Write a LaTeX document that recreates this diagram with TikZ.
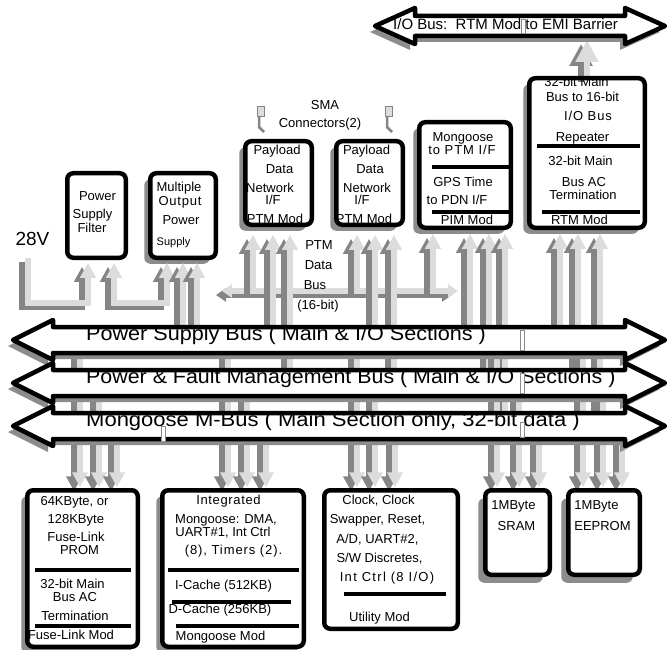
\documentclass[tikz,border=0pt]{standalone}
\usepackage{fontspec}
\usepackage{graphicx}
\setmainfont{Liberation Sans}
\usetikzlibrary{arrows.meta,shadows}
\definecolor{litegray}{HTML}{DCDCDC}
\definecolor{darkgray2}{HTML}{858585}
\definecolor{shadowgray}{HTML}{8C8C8C}
% double-headed bus outline: xl xr c headhalf shafthalf headlen
\newcommand\busp[6]{(#1,#3) -- ({#1+#6},{#3-#4}) -- ({#1+#6},{#3-#5}) -- ({#2-#6},{#3-#5}) -- ({#2-#6},{#3-#4}) -- (#2,#3) -- ({#2-#6},{#3+#4}) -- ({#2-#6},{#3+#5}) -- ({#1+#6},{#3+#5}) -- ({#1+#6},{#3+#4}) -- cycle}
\newcommand\cn[2][]{\draw[darkc,#1,transform canvas={xshift=-6pt,yshift=-4pt}] #2;\draw[litec,#1] #2;}
\begin{document}
\begin{tikzpicture}[x=1pt,y=-1pt,
  plainbox/.style={fill=white, inner sep=0pt, outer sep=0pt, rounded corners=6pt},
  shbox/.style={plainbox, drop shadow={shadow xshift=-6pt, shadow yshift=-6pt, fill=shadowgray, opacity=1}},
  shboxb/.style={plainbox, drop shadow={shadow xshift=-7pt, shadow yshift=-8pt, fill=shadowgray, opacity=1}},
  outline/.style={draw=black, line width=4.5pt, rounded corners=6pt},
  lbl/.style={font=\fontsize{13}{15}\selectfont, inner sep=0pt, anchor=base, yshift=-4.6pt},
  sml/.style={font=\fontsize{11}{13}\selectfont, inner sep=0pt, anchor=base, yshift=-4pt},
  bustext/.style={font=\fontsize{20}{24}\selectfont, inner sep=0pt, anchor=base west},
  sepline/.style={line width=4.5pt, black},
  litec/.style={line width=6pt, draw=litegray, line join=miter},
  darkc/.style={line width=6pt, draw=darkgray2, line join=miter},
  tipend/.style={-{Triangle[width=15pt,length=15pt]}},
  bigtip/.style={-{Triangle[width=22pt,length=22pt]}},
  bustip/.style={{Triangle[width=13pt,length=10pt]}-{Triangle[width=13pt,length=10pt]}},
  busfill/.style={fill=white},
  busshadow/.style={fill=shadowgray},
  busline/.style={draw=black, line width=4.5pt, line join=round},
  notch/.style={fill=white, draw=shadowgray, line width=0.8pt}
]
\useasboundingbox (0,0) rectangle (667,650);

% ---------- reference coordinates ----------
\coordinate (b1) at (0,340);
\coordinate (b2) at (0,383);
\coordinate (b3) at (0,426);
\coordinate (pb) at (0,291);
\coordinate (tbus) at (0,40);
\coordinate (v28) at (28,258);
\coordinate (pbL) at (222,291);
\coordinate (pbR) at (458,291);

% ---------- box bodies ----------
\node[plainbox, minimum width=58.5pt, minimum height=84.5pt] (filter) at (96.5,215.5) {};
\node[shbox, minimum width=65.5pt, minimum height=84.5pt] (mops) at (183,215.5) {};
\node[shbox, minimum width=66.5pt, minimum height=83.5pt] (ptm1) at (278.5,183) {};
\node[shbox, minimum width=66.5pt, minimum height=83.5pt] (ptm2) at (369.5,183) {};
\node[shbox, minimum width=91.5pt, minimum height=105.5pt] (pim) at (465,175) {};
\node[shbox, minimum width=115.5pt, minimum height=149.5pt] (rtm) at (587,153) {};
\node[shbox, minimum width=110.5pt, minimum height=156.5pt] (fuse) at (82.5,568.5) {};
\node[shbox, minimum width=141.5pt, minimum height=156.5pt] (mong) at (233,568.5) {};
\node[plainbox, minimum width=133.5pt, minimum height=138.5pt] (util) at (391,559.5) {};
\node[shboxb, minimum width=64.5pt, minimum height=84.5pt] (sram) at (517.5,532.5) {};
\node[shboxb, minimum width=71.5pt, minimum height=84.5pt] (eeprom) at (604,532.5) {};

% ---------- connectors ----------
\cn[tipend,shorten >=5pt]{(v28) |- (88,303) -- (88,0 |- filter.south)}
\cn[{Triangle[width=15pt,length=15pt]}-{Triangle[width=15pt,length=15pt]},shorten <=5pt,shorten >=5pt]{(114,0 |- filter.south) |- (167,303) -- (167,0 |- mops.south)}
\cn[tipend,shorten >=5pt]{(183,0 |- b1) -- (183,0 |- mops.south)}
\cn[tipend,shorten >=5pt]{(197,0 |- b1) -- (197,0 |- mops.south)}
\cn[bustip]{(pbL) -- (pbR)}
% PTM 1
\cn[tipend,shorten >=10pt]{(253,0 |- pb) -- (253,0 |- ptm1.south)}
\cn[tipend,shorten >=10pt]{(273,0 |- b1) -- (273,0 |- ptm1.south)}
\cn[tipend,shorten >=10pt]{(290,0 |- b2) -- (290,0 |- ptm1.south)}
% PTM 2
\cn[tipend,shorten >=10pt]{(357,0 |- pb) -- (357,0 |- ptm2.south)}
\cn[tipend,shorten >=10pt]{(375,0 |- b1) -- (375,0 |- ptm2.south)}
\cn[tipend,shorten >=10pt]{(394,0 |- b2) -- (394,0 |- ptm2.south)}
% PIM
\cn[tipend,shorten >=6pt]{(433,0 |- pb) -- (433,0 |- pim.south)}
\cn[tipend,shorten >=6pt]{(470,0 |- b1) -- (470,0 |- pim.south)}
\cn[tipend,shorten >=6pt]{(489,0 |- b2) -- (489,0 |- pim.south)}
\cn[tipend,shorten >=6pt]{(505,0 |- b3) -- (505,0 |- pim.south)}
% RTM
\cn[tipend,shorten >=6pt]{(560,0 |- b1) -- (560,0 |- rtm.south)}
\cn[tipend,shorten >=6pt]{(578,0 |- b2) -- (578,0 |- rtm.south)}
\cn[tipend,shorten >=6pt]{(600,0 |- b3) -- (600,0 |- rtm.south)}
\cn[bigtip]{(587,0 |- rtm.north) -- (587,0 |- tbus)}
% bottom modules
\cn[tipend,shorten >=3pt]{(80,0 |- b1) -- (80,0 |- fuse.north)}
\cn[tipend,shorten >=3pt]{(99,0 |- b2) -- (99,0 |- fuse.north)}
\cn[tipend,shorten >=3pt]{(117,0 |- b3) -- (117,0 |- fuse.north)}
\cn[tipend,shorten >=3pt]{(228,0 |- b1) -- (228,0 |- mong.north)}
\cn[tipend,shorten >=3pt]{(247,0 |- b2) -- (247,0 |- mong.north)}
\cn[tipend,shorten >=3pt]{(266,0 |- b3) -- (266,0 |- mong.north)}
\cn[tipend,shorten >=3pt]{(357,0 |- b1) -- (357,0 |- util.north)}
\cn[tipend,shorten >=3pt]{(375,0 |- b2) -- (375,0 |- util.north)}
\cn[tipend,shorten >=3pt]{(395,0 |- b3) -- (395,0 |- util.north)}
\cn[tipend,shorten >=3pt]{(497,0 |- b1) -- (497,0 |- sram.north)}
\cn[tipend,shorten >=3pt]{(519,0 |- b2) -- (519,0 |- sram.north)}
\cn[tipend,shorten >=3pt]{(539,0 |- b3) -- (539,0 |- sram.north)}
\cn[tipend,shorten >=3pt]{(583,0 |- b1) -- (583,0 |- eeprom.north)}
\cn[tipend,shorten >=3pt]{(603,0 |- b2) -- (603,0 |- eeprom.north)}
\cn[tipend,shorten >=3pt]{(622,0 |- b3) -- (622,0 |- eeprom.north)}

% ---------- buses ----------
\path[busshadow, shift={(-5,6)}] \busp{375}{665}{26}{18}{10}{40};
\path[busfill] \busp{375}{665}{26}{18}{10}{40};
\node[bustext, font=\fontsize{15}{18}\selectfont] (iobus) at (393,30) {I/O Bus:\ \ RTM Mod to EMI Barrier};
\path[busline] \busp{375}{665}{26}{18}{10}{40};
\path[notch] (521.5,19) rectangle (525,33);

\path[busshadow, shift={(-5,6)}] \busp{13}{665}{340}{20}{13}{40};
\path[busfill] \busp{13}{665}{340}{20}{13}{40};
\node[bustext] (psbus) at (86,340.5) {\scalebox{1.08}[1]{Power Supply Bus ( Main \& I/O Sections )}};
\path[busline] \busp{13}{665}{340}{20}{13}{40};
\path[notch] (520.5,330) rectangle (524,350);

\path[busshadow, shift={(-5,6)}] \busp{13}{665}{383}{20}{13}{40};
\path[busfill] \busp{13}{665}{383}{20}{13}{40};
\node[bustext] (pfbus) at (86,383.5) {\scalebox{1.07}[1]{Power \& Fault Management Bus ( Main \& I/O Sections )}};
\path[busline] \busp{13}{665}{383}{20}{13}{40};
\path[notch] (520.5,373) rectangle (524,393);

\path[busshadow, shift={(-5,6)}] \busp{13}{665}{426}{20}{13}{40};
\path[busfill] \busp{13}{665}{426}{20}{13}{40};
\node[bustext] (mbus) at (86,426.5) {\scalebox{1.1}[1]{Mongoose M-Bus ( Main Section only, 32-bit data )}};
\path[busline] \busp{13}{665}{426}{20}{13}{40};
\path[notch] (161.5,426) rectangle (165,441);
\path[notch] (520.5,422) rectangle (524,437);

% ---------- SMA connector icons ----------
\fill[litegray, draw=darkgray2, line width=0.8pt] (257,106) rectangle (264,116);
\draw[darkgray2, line width=2.5pt] (259,117) -- (259,127) -- (264,132);
\fill[litegray, draw=darkgray2, line width=0.8pt] (385,106) rectangle (392,116);
\draw[darkgray2, line width=2.5pt] (387,117) -- (387,127) -- (392,132);

% ---------- texts ----------
\node[inner sep=0pt, anchor=base, font=\fontsize{19}{22}\selectfont] (v28t) at (32.5,245) {28V};
\node[lbl] (fA) at (97.5,196) {Power};
\node[lbl] (fB) at (92.5,214) {Supply};
\node[lbl] (fC) at (92,228) {Filter};
\node[lbl] (mA) at (179,187) {Multiple};
\node[lbl] (mB) at (180,201) {\addfontfeature{LetterSpace=6}Output};
\node[lbl] (mC) at (181,220) {Power};
\node[sml] (mD) at (173.5,241) {Supply};
\node[lbl] (sA) at (325,105) {SMA};
\node[lbl] (sB) at (320,123) {Connectors(2)};
\node[lbl] (p1A) at (277,150) {Payload};
\node[lbl] (p1B) at (279.5,169) {Data};
\node[lbl] (p1C) at (270,188) {Network};
\node[lbl] (p1D) at (273,200) {I/F};
\node[lbl] (p1E) at (275,219) {PTM Mod};
\node[lbl] (p2A) at (366.5,150) {Payload};
\node[lbl] (p2B) at (370,169) {Data};
\node[lbl] (p2C) at (367,188) {Network};
\node[lbl] (p2D) at (362,200) {I/F};
\node[lbl] (p2E) at (364,219) {PTM Mod};
\node[lbl] (dA) at (319,245) {PTM};
\node[lbl] (dB) at (318.5,265) {Data};
\node[lbl] (dC) at (315,285) {Bus};
\node[lbl] (dD) at (318,305) {(16-bit)};
\node[lbl] (iA) at (463,137) {Mongoose};
\node[lbl] (iB) at (462,150) {\addfontfeature{LetterSpace=7}to PTM I/F};
\node[lbl] (iC) at (463,182) {GPS Time};
\node[lbl] (iD) at (457,200) {to PDN I/F};
\node[lbl] (iE) at (467,220) {PIM Mod};
\node[lbl] (rA) at (576.5,82) {32-bit Main};
\node[lbl] (rB) at (582.5,97) {Bus to 16-bit};
\node[lbl] (rC) at (588,116) {\addfontfeature{LetterSpace=7}I/O Bus};
\node[lbl] (rD) at (582.5,137) {Repeater};
\node[lbl] (rE) at (580.5,161) {32-bit Main};
\node[lbl] (rF) at (584,182) {Bus AC};
\node[lbl] (rG) at (583,195) {Termination};
\node[lbl] (rH) at (579.5,220) {RTM Mod};
\node[lbl] (uA) at (74.5,501) {64KByte, or};
\node[lbl] (uB) at (75.8,519) {128KByte};
\node[lbl] (uC) at (76,537) {Fuse-Link};
\node[lbl] (uD) at (79.5,550) {PROM};
\node[lbl] (uE) at (72.5,584) {32-bit Main};
\node[lbl] (uF) at (75,597) {Bus AC};
\node[lbl] (uG) at (75,616) {Termination};
\node[lbl] (uH) at (71,635) {Fuse-Link Mod};
\node[lbl] (gA) at (228.5,500) {\addfontfeature{LetterSpace=5}Integrated};
\node[lbl] (gB) at (226,519) {Mongoose: DMA,};
\node[lbl] (gC) at (223,532) {UART\#1, Int Ctrl};
\node[lbl] (gD) at (233.5,550) {\addfontfeature{LetterSpace=7}(8), Timers (2).};
\node[lbl] (gE) at (223.5,585) {I-Cache (512KB)};
\node[lbl] (gF) at (220,609) {D-Cache (256KB)};
\node[lbl] (gG) at (220.5,636) {Mongoose Mod};
\node[lbl] (yA) at (378.5,500) {Clock, Clock};
\node[lbl] (yB) at (377.5,519) {Swapper, Reset,};
\node[lbl] (yC) at (377.5,539) {A/D, UART\#2,};
\node[lbl] (yD) at (379.5,558) {S/W Discretes,};
\node[lbl] (yE) at (387,577) {\addfontfeature{LetterSpace=10}Int Ctrl (8 I/O)};
\node[lbl] (yF) at (379.5,617) {Utility Mod};
\node[lbl] (sr1) at (513.5,505) {1MByte};
\node[lbl] (sr2) at (516.5,526) {SRAM};
\node[lbl] (ee1) at (596.5,505) {1MByte};
\node[lbl] (ee2) at (602.5,526) {EEPROM};

% ---------- box outlines ----------
\foreach \n in {filter,mops,ptm1,ptm2,pim,rtm,fuse,mong,util,sram,eeprom}
  \draw[outline] (\n.south west) rectangle (\n.north east);

% ---------- separators ----------
\draw[sepline] (432,167) -- (510,167);
\draw[sepline] (432,212) -- (510,212);
\draw[sepline] (537,146) -- (640,146);
\draw[sepline] (542,212) -- (640,212);
\draw[sepline] (35,570) -- (131,570);
\draw[sepline] (35,626) -- (131,626);
\draw[sepline] (168,570) -- (299,570);
\draw[sepline] (172,602) -- (291,602);
\draw[sepline] (176,626) -- (299,626);
\draw[sepline] (344,594) -- (446,594);
\end{tikzpicture}
\end{document}
